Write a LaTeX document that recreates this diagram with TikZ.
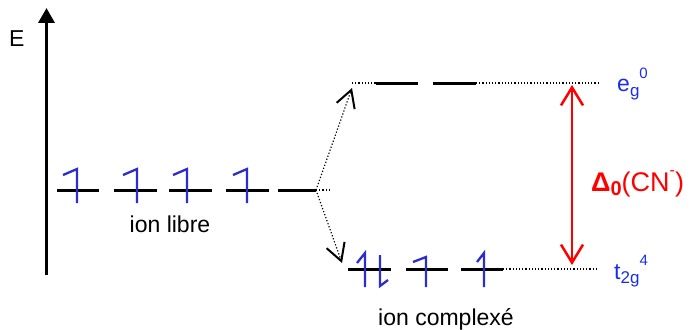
\documentclass[tikz,border=0pt]{standalone}
\usepackage{fontspec}
\setmainfont{Liberation Sans}
\usetikzlibrary{arrows.meta}
\definecolor{spinblue}{RGB}{45,45,205}
\definecolor{labelblue}{RGB}{25,45,235}
\newcommand\lowtxt[2][17]{\raisebox{-0.35ex}{\fontsize{#1}{#1}\selectfont #2}}
\newcommand\hightxt[2][15]{\raisebox{1.1ex}{\fontsize{#1}{#1}\selectfont #2}}

\begin{document}
\begin{tikzpicture}[
  x=1pt,y=-1pt,
  level/.style={line width=3pt},
  guide/.style={line width=1.2pt,dash pattern=on 1.2pt off 2pt},
  barb/.style={-{Straight Barb[length=17pt,width=19pt,line width=2pt]}},
  spin/.style={spinblue,line width=2.3pt},
  every node/.style={font=\fontsize{23}{27}\selectfont,inner sep=0pt}
]
  \useasboundingbox (0,0) rectangle (690,329);

  % energy axis
  \draw[line width=3.5pt,-{Triangle[length=15pt,width=16pt]}] (46.5,275) -- (46.5,8);
  \node[anchor=base west] (E) at (9,47) {E};

  % free ion
  \foreach \a/\b in {57/99,114/157,169/212,226/269,278/316}
    \draw[level] (\a,190) -- (\b,190);
  \foreach \x in {77,137,187,247}
    \draw[spin] (\x-14,175) -- (\x,169) -- (\x,203);
  \node[anchor=base] (libre) at (170,232) {ion libre};
  \coordinate (free) at (316,190);
  \draw[guide] (free) -- (331,190);

  % complexed ion, e_g
  \coordinate (egin) at (352,83);
  \coordinate (egout) at (598,83);
  \coordinate (egtip) at (352,88);
  \draw[guide] (egin) -- (376,83);
  \draw[guide] (476,83) -- (egout);
  \draw[level] (376,83) -- (418,83);
  \draw[level] (433,83) -- (476,83);
  \draw[guide,barb] (free) -- (egtip);

  % complexed ion, t_2g
  \coordinate (tgout) at (598,269);
  \coordinate (tgtip) at (342,263);
  \foreach \a/\b in {348/391,406/448,461/503}
    \draw[level] (\a,269) -- (\b,269);
  \draw[guide] (503,269) -- (tgout);
  \draw[guide,barb] (free) -- (tgtip);
  \draw[spin] (357,263) -- (365,253) -- (365,287);
  \draw[spin] (380,255) -- (380,286) -- (388,280);
  \draw[spin] (413,262) -- (426,257) -- (426,287);
  \draw[spin] (477,262) -- (484,253) -- (484,287);
  \node[anchor=base] (complexe) at (446,325) {ion complexé};

  % splitting
  \coordinate (gaptop) at (572,85);
  \coordinate (gapbot) at (572,265);
  \draw[red,line width=2.5pt,{Straight Barb[length=18pt,width=22pt]}-{Straight Barb[length=18pt,width=22pt]}] (gaptop) -- (gapbot);
  \node[red,anchor=base west,font=\fontsize{27}{30}\selectfont] (delta) at (591,191) {\textbf{Δ\lowtxt[20]{0}}(CN\hightxt[16]{-})};
  \node[labelblue,anchor=base west] (eg) at (617,92) {e\lowtxt{g}\hightxt{0}};
  \node[labelblue,anchor=base west] (tg) at (614,279) {t\lowtxt{2g}\hightxt{4}};
\end{tikzpicture}
\end{document}
